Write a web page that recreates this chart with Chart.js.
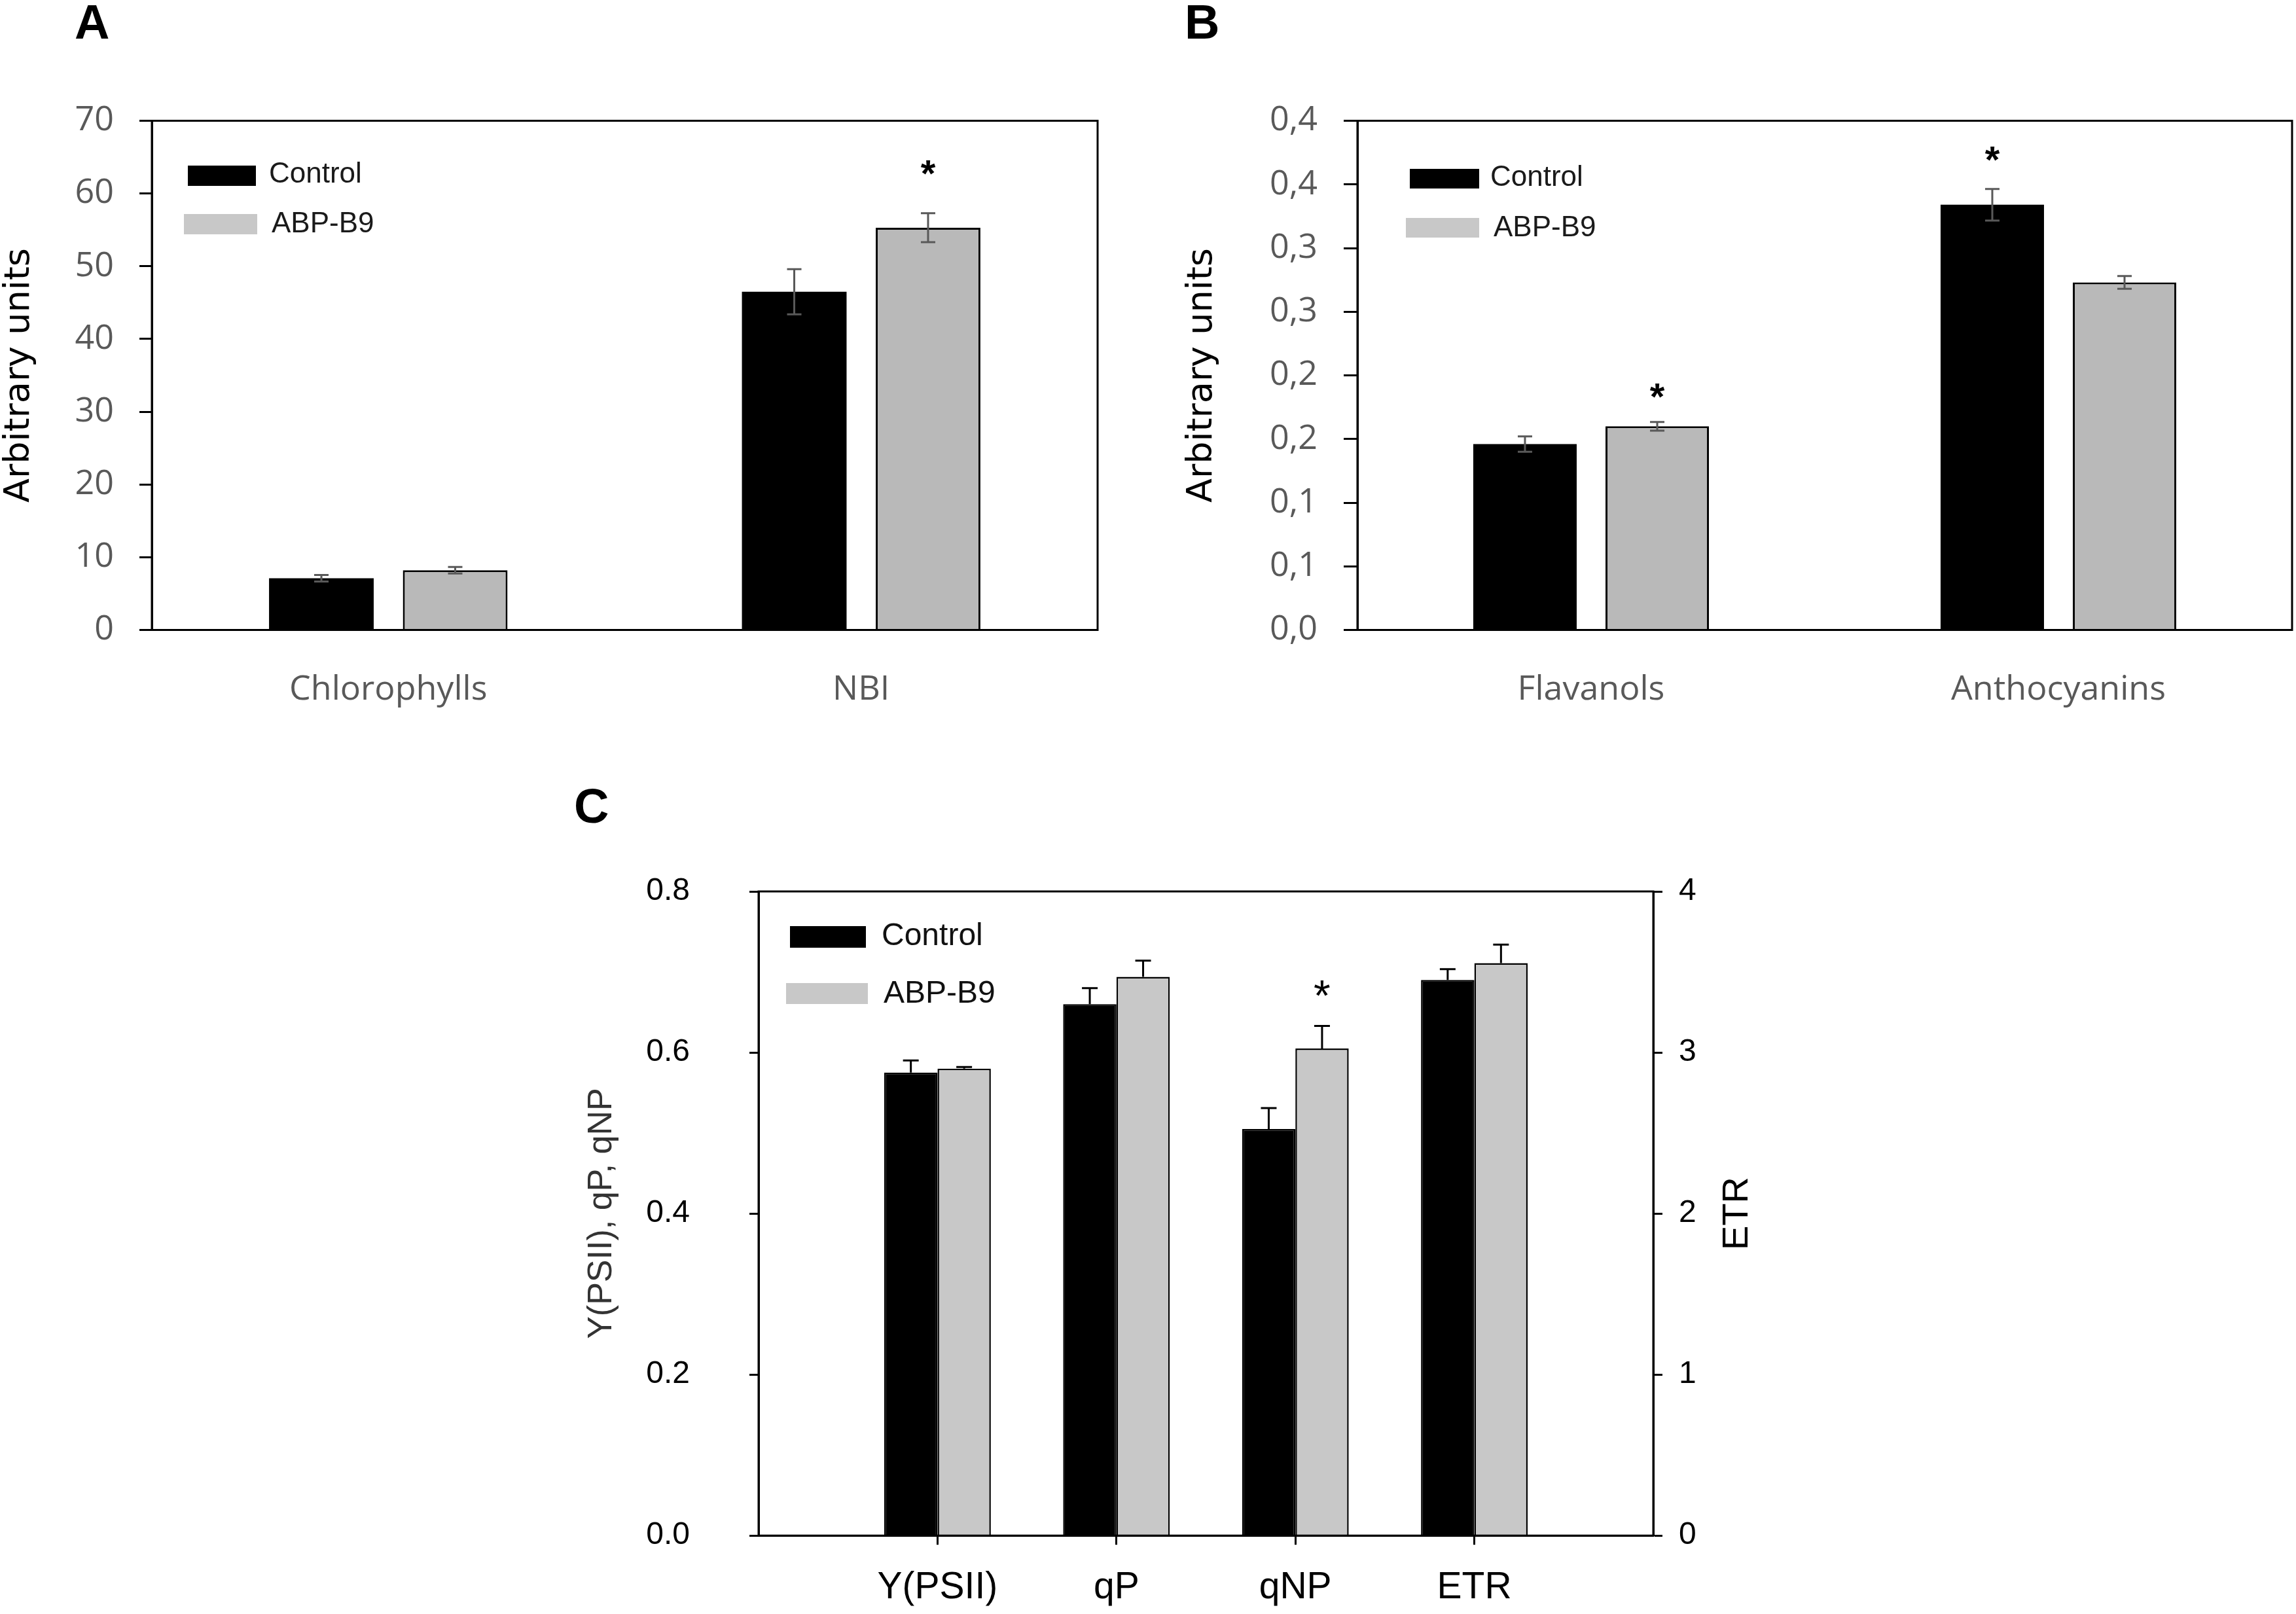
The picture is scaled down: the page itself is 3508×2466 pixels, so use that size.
<!DOCTYPE html>
<html><head><meta charset="utf-8">
<script src="https://cdn.jsdelivr.net/npm/chart.js@4.4.1/dist/chart.umd.min.js"></script>
<style>
html,body{margin:0;padding:0;background:#fff;}
body{width:3508px;height:2466px;position:relative;overflow:hidden;}
canvas{position:absolute;}
.lbl{position:absolute;font:bold 74px "Liberation Sans",Arial,sans-serif;line-height:74px;color:#000;}
</style></head><body>
<div class="lbl" style="left:114px;top:-3px">A</div>
<div class="lbl" style="left:1810px;top:-3px">B</div>
<div class="lbl" style="left:877px;top:1195px">C</div>
<canvas id="cA" style="left:0;top:0"></canvas>
<canvas id="cB" style="left:1740px;top:0"></canvas>
<canvas id="cC" style="left:800px;top:1180px"></canvas>
<script>
// ---------- Panel A ----------
const catsA = ['Chlorophylls', 'NBI'];
const controlA = [7.1, 46.5];
const controlErrA = [0.45, 3.1];
const abpA = [8.2, 55.3];
const abpErrA = [0.45, 2.0];
const controlStarsA = [null, null];
const abpStarsA = [null, 63.6];
const ticksA = ['0', '10', '20', '30', '40', '50', '60', '70'];

// ---------- Panel B ----------
const catsB = ['Flavanols', 'Anthocyanins'];
const controlB = [0.146, 0.334];
const controlErrB = [0.006, 0.0124];
const abpB = [0.160, 0.273];
const abpErrB = [0.0034, 0.005];
const controlStarsB = [null, 0.374];
const abpStarsB = [0.188, null];
const ticksB = ['0,0', '0,1', '0,1', '0,2', '0,2', '0,3', '0,3', '0,4', '0,4'];

// ---------- Panel C ----------
const catsC = ['Y(PSII)', 'qP', 'qNP', 'ETR'];
const axisC = ['left', 'left', 'left', 'right'];
const controlC = [0.575, 0.660, 0.505, 3.45];
const controlErrC = [0.015, 0.020, 0.026, 0.067];
const abpC = [0.580, 0.694, 0.605, 3.555];
const abpErrC = [0.002, 0.020, 0.028, 0.115];
const controlStarsC = [null, null, null, null];
const abpStarsC = [null, null, 0.680, null];
const ticksCLeft = ['0.0', '0.2', '0.4', '0.6', '0.8'];
const ticksCRight = ['0', '1', '2', '3', '4'];

// ---------- plugins ----------
const boxPlugin = {
  id: 'box',
  afterDraw(chart, args, o) {
    const {ctx, chartArea: a} = chart;
    ctx.save();
    ctx.strokeStyle = '#000';
    ctx.lineWidth = o.width || 3;
    ctx.strokeRect(a.left, a.top, a.right - a.left, a.bottom - a.top);
    ctx.restore();
  }
};
const errPlugin = {
  id: 'err',
  afterDatasetsDraw(chart, args, o) {
    const ctx = chart.ctx;
    chart.data.datasets.forEach((ds, di) => {
      if (!ds.errors) return;
      const meta = chart.getDatasetMeta(di);
      const ys = chart.scales[meta.yAxisID];
      meta.data.forEach((el, i) => {
        const v = ds.data[i], e = ds.errors[i];
        if (v == null || e == null) return;
        const x = el.x;
        const yt = ys.getPixelForValue(v + e);
        const yb = o.upOnly ? ys.getPixelForValue(v) : ys.getPixelForValue(v - e);
        ctx.save();
        ctx.strokeStyle = o.color;
        ctx.lineWidth = o.width;
        ctx.beginPath();
        ctx.moveTo(x, yb); ctx.lineTo(x, yt);
        ctx.moveTo(x - o.cap, yt); ctx.lineTo(x + o.cap, yt);
        if (!o.upOnly) { ctx.moveTo(x - o.cap, yb); ctx.lineTo(x + o.cap, yb); }
        ctx.stroke();
        ctx.restore();
      });
    });
  }
};
const starPlugin = {
  id: 'stars',
  afterDatasetsDraw(chart, args, o) {
    const ctx = chart.ctx;
    chart.data.datasets.forEach((ds, di) => {
      if (!ds.stars) return;
      const meta = chart.getDatasetMeta(di);
      const ys = chart.scales[meta.yAxisID];
      meta.data.forEach((el, i) => {
        const s = ds.stars[i];
        if (s == null) return;
        ctx.save();
        ctx.font = o.font;
        ctx.fillStyle = '#000';
        ctx.textAlign = 'center';
        ctx.textBaseline = 'alphabetic';
        const m = ctx.measureText('*');
        const y = ys.getPixelForValue(s);
        ctx.fillText('*', el.x, y + (m.actualBoundingBoxAscent - m.actualBoundingBoxDescent) / 2);
        ctx.restore();
      });
    });
  }
};
const legendPlugin = {
  id: 'lgd',
  afterDatasetsDraw(chart, args, o) {
    const ctx = chart.ctx;
    ctx.save();
    o.items.forEach(it => {
      ctx.fillStyle = it.color;
      ctx.fillRect(it.box[0], it.box[1], it.box[2] - it.box[0], it.box[3] - it.box[1]);
      ctx.fillStyle = o.textColor;
      ctx.font = o.font;
      ctx.textAlign = 'left';
      ctx.textBaseline = 'middle';
      ctx.fillText(it.text, it.tx, it.ty);
    });
    ctx.restore();
  }
};
const rightTitlePlugin = {
  id: 'rtitle',
  afterDraw(chart, args, o) {
    if (!o.text) return;
    const {ctx, chartArea: a} = chart;
    ctx.save();
    ctx.translate(o.x, (a.top + a.bottom) / 2);
    ctx.rotate(-Math.PI / 2);
    ctx.font = o.font;
    ctx.fillStyle = '#000';
    ctx.textAlign = 'center';
    ctx.textBaseline = 'middle';
    ctx.fillText(o.text, 0, 0);
    ctx.restore();
  }
};

function makeAB(id, w, h, cats, ctrl, ctrlErr, ctrlStars, abp, abpErr, abpStars, ymax, step, tickLabels, pad, yWidth, tickLen, tickPad, legendItems) {
  const cv = document.getElementById(id);
  cv.width = w; cv.height = h;
  return new Chart(cv, {
    type: 'bar',
    data: {
      labels: cats,
      datasets: [
        {label: 'Control', data: ctrl, errors: ctrlErr, stars: ctrlStars, backgroundColor: '#000', borderColor: '#000', borderWidth: 0,
         categoryPercentage: 0.566, barPercentage: 0.782},
        {label: 'ABP-B9', data: abp, errors: abpErr, stars: abpStars, backgroundColor: '#b9b9b9', borderColor: '#000', borderWidth: 3,
         categoryPercentage: 0.566, barPercentage: 0.782}
      ]
    },
    plugins: [boxPlugin, errPlugin, starPlugin, legendPlugin],
    options: {
      responsive: false, animation: false, devicePixelRatio: 1,
      layout: {padding: pad},
      plugins: {
        legend: {display: false}, tooltip: {enabled: false},
        box: {width: 3},
        err: {color: '#595959', width: 3, cap: 11, upOnly: false},
        stars: {font: 'bold 58px "Liberation Sans", Arial, sans-serif'},
        lgd: {items: legendItems, font: '44px "Liberation Sans", Arial, sans-serif', textColor: '#1a1a1a'}
      },
      scales: {
        x: {
          grid: {display: false},
          border: {display: true, color: '#000', width: 3},
          ticks: {font: {family: '"Open Sans"', size: 52}, color: '#595959', padding: 52, maxRotation: 0},
          afterFit: s => { s.height = h - 962.5; }
        },
        y: {
          min: 0, max: ymax,
          ticks: {stepSize: step, callback: (v, i) => tickLabels[i], font: {family: '"Open Sans"', size: 52}, color: '#595959', padding: tickPad},
          grid: {drawOnChartArea: false, drawTicks: true, tickLength: tickLen, tickWidth: 3, tickColor: '#000'},
          border: {color: '#000', width: 3},
          title: {display: true, text: 'Arbitrary units', color: '#000', padding: 0,
                  font: {family: '"DejaVu Sans"', size: 54, lineHeight: 1}},
          afterFit: s => { s.width = yWidth; }
        }
      }
    }
  });
}

makeAB('cA', 1700, 1120, catsA, controlA, controlErrA, controlStarsA, abpA, abpErrA, abpStarsA, 70, 10, ticksA,
  {top: 184.5, right: 23, left: 3, bottom: 0}, 229, 19, 39,
  [{text: 'Control', color: '#000', box: [287, 253, 391, 284], tx: 411, ty: 267},
   {text: 'ABP-B9', color: '#c8c8c8', box: [281, 327, 393, 358], tx: 415, ty: 343}]);

makeAB('cB', 1768, 1120, catsB, controlB, controlErrB, controlStarsB, abpB, abpErrB, abpStarsB, 0.4, 0.05, ticksB,
  {top: 184.5, right: 6, left: 70, bottom: 0}, 264, 21, 40,
  [{text: 'Control', color: '#000', box: [414, 258, 520, 288], tx: 537, ty: 272},
   {text: 'ABP-B9', color: '#c8c8c8', box: [408, 333, 520, 363], tx: 542, ty: 349}]);

// ---------- Panel C chart ----------
(function () {
  const cv = document.getElementById('cC');
  const W = 2000, H = 1286;
  cv.width = W; cv.height = H;
  const pad = arr => [null, ...arr, null];
  const side = (arr, s) => pad(arr.map((v, i) => axisC[i] === s ? v : null));
  const common = {borderColor: '#000', borderWidth: 2.5, skipNull: true, categoryPercentage: 0.596, barPercentage: 1.0};
  new Chart(cv, {
    type: 'bar',
    data: {
      labels: ['', ...catsC, ''],
      datasets: [
        Object.assign({label: 'Control', yAxisID: 'y', data: side(controlC, 'left'), errors: side(controlErrC, 'left'), stars: side(controlStarsC, 'left'), backgroundColor: '#000'}, common),
        Object.assign({label: 'ABP-B9', yAxisID: 'y', data: side(abpC, 'left'), errors: side(abpErrC, 'left'), stars: side(abpStarsC, 'left'), backgroundColor: '#c8c8c8'}, common),
        Object.assign({label: 'Control', yAxisID: 'y2', data: side(controlC, 'right'), errors: side(controlErrC, 'right'), stars: side(controlStarsC, 'right'), backgroundColor: '#000'}, common),
        Object.assign({label: 'ABP-B9', yAxisID: 'y2', data: side(abpC, 'right'), errors: side(abpErrC, 'right'), stars: side(abpStarsC, 'right'), backgroundColor: '#c8c8c8'}, common)
      ]
    },
    plugins: [boxPlugin, errPlugin, starPlugin, legendPlugin, rightTitlePlugin],
    options: {
      responsive: false, animation: false, devicePixelRatio: 1,
      layout: {padding: {top: 182, right: 0, left: 94, bottom: 0}},
      plugins: {
        legend: {display: false}, tooltip: {enabled: false},
        box: {width: 3},
        err: {color: '#000', width: 3, cap: 12, upOnly: true},
        stars: {font: '66px "Liberation Sans", Arial, sans-serif'},
        lgd: {items: [
          {text: 'Control', color: '#000', box: [407, 235, 523, 268], tx: 547, ty: 251},
          {text: 'ABP-B9', color: '#c8c8c8', box: [401, 322, 526, 354], tx: 550, ty: 339}
        ], font: '48px "Liberation Sans", Arial, sans-serif', textColor: '#111'},
        rtitle: {text: 'ETR', x: 1855, font: '56px "Liberation Sans", Arial, sans-serif'}
      },
      scales: {
        x: {
          offset: false,
          grid: {offset: false, display: true, drawOnChartArea: false, drawTicks: true, tickLength: 14, tickWidth: 3,
                 tickColor: c => (c.index === 0 || c.index === 5) ? 'rgba(0,0,0,0)' : '#000'},
          border: {color: '#000', width: 3},
          ticks: {autoSkip: false, maxRotation: 0, font: {family: '"Liberation Sans"', size: 57}, color: '#000', padding: 32},
          afterFit: s => { s.height = H - 1178.6; }
        },
        y: {
          position: 'left', min: 0, max: 0.8,
          ticks: {stepSize: 0.2, callback: (v, i) => ticksCLeft[i], font: {family: '"Liberation Sans"', size: 48}, color: '#000', padding: 91},
          grid: {drawOnChartArea: false, drawTicks: true, tickLength: 14, tickWidth: 3, tickColor: '#000'},
          border: {color: '#000', width: 3},
          title: {display: true, text: 'Y(PSII), qP, qNP', color: '#333', padding: 0,
                  font: {family: '"Liberation Sans"', size: 52, lineHeight: 1}},
          afterFit: s => { s.width = 265; }
        },
        y2: {
          position: 'right', min: 0, max: 4,
          ticks: {stepSize: 1, callback: (v, i) => ticksCRight[i], font: {family: '"Liberation Sans"', size: 48}, color: '#000', padding: 25},
          grid: {drawOnChartArea: false, drawTicks: true, tickLength: 14, tickWidth: 3, tickColor: '#000'},
          border: {color: '#000', width: 3},
          afterFit: s => { s.width = 274; }
        }
      }
    }
  });
})();
</script>
</body></html>
